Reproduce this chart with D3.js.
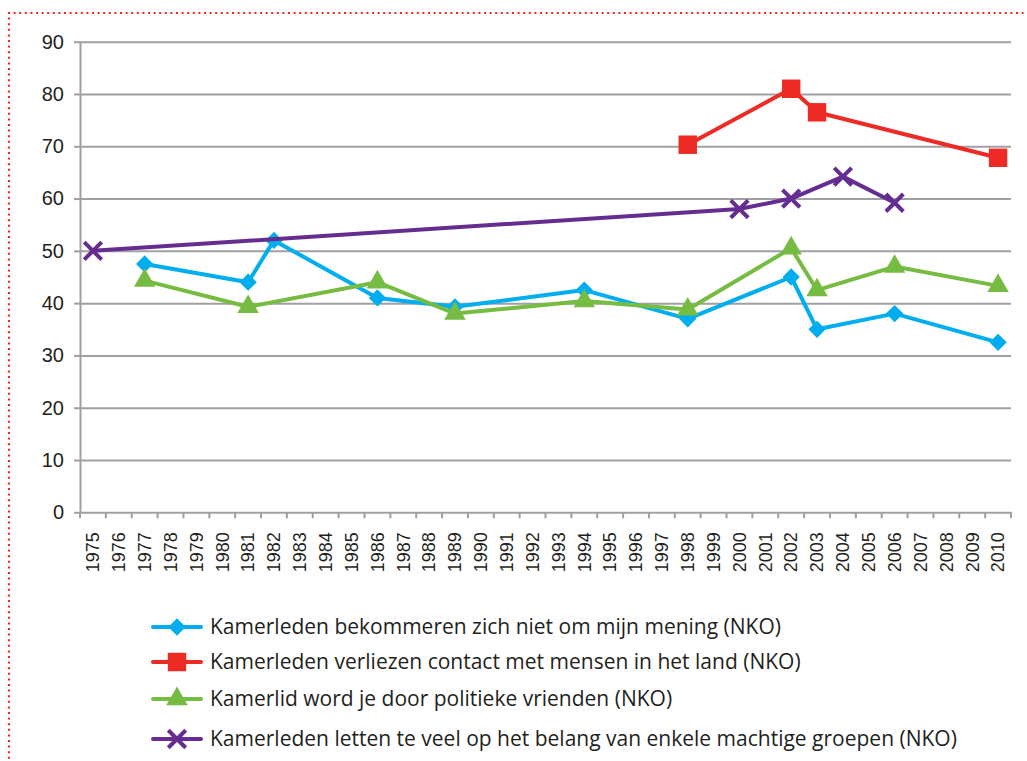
<!DOCTYPE html>
<html>
<head>
<meta charset="utf-8">
<script src="https://cdn.jsdelivr.net/npm/d3@7"></script>
<style>
  body { margin: 0; background: #fff; }
  svg { display: block; font-family: "Open Sans", "Noto Sans", sans-serif; }
  .grid line { stroke: #a0a0a4; stroke-width: 2; }
  .grid path { display: none; }
  .axis path, .axis line { stroke: #a0a0a4; stroke-width: 2; }
  .axis text { fill: #231f20; }
</style>
</head>
<body>
<svg id="chart" width="1027" height="761"></svg>
<script>
// years on the category axis
const years = d3.range(1975, 2011).map(String);
const yTicks = [0, 10, 20, 30, 40, 50, 60, 70, 80, 90];

// series values
const bekommeren = [
  ['1977', 47.5], ['1981', 44], ['1982', 52], ['1986', 41], ['1989', 39.3],
  ['1994', 42.5], ['1998', 37], ['2002', 45], ['2003', 35], ['2006', 38], ['2010', 32.5]
];
const verliezen = [['1998', 70.3], ['2002', 81], ['2003', 76.5], ['2010', 67.8]];
const vrienden = [
  ['1977', 44.3], ['1981', 39.3], ['1986', 44], ['1989', 38], ['1994', 40.4],
  ['1998', 38.8], ['2002', 50.5], ['2003', 42.5], ['2006', 47], ['2010', 43.3]
];
const groepen = [['1975', 50], ['2000', 58], ['2002', 60], ['2004', 64.2], ['2006', 59.2]];

const seriesNames = [
  'Kamerleden bekommeren zich niet om mijn mening (NKO)',
  'Kamerleden verliezen contact met mensen in het land (NKO)',
  'Kamerlid word je door politieke vrienden (NKO)',
  'Kamerleden letten te veel op het belang van enkele machtige groepen (NKO)'
];

const series = [
  { name: seriesNames[0], values: bekommeren, color: '#00aeef', symbol: d3.symbolDiamond2, size: 190 },
  { name: seriesNames[1], values: verliezen, color: '#ee2a24', symbol: d3.symbolSquare, size: 340 },
  { name: seriesNames[2], values: vrienden, color: '#76bc43', symbol: d3.symbolTriangle, size: 200 },
  { name: seriesNames[3], values: groepen, color: '#662d91', symbol: d3.symbolX, size: 200 }
];

const svg = d3.select('#chart');

// dotted red frame
svg.append('path')
  .attr('d', 'M9,770 L9,13 L1040,13')
  .attr('fill', 'none')
  .attr('stroke', '#ee2a24')
  .attr('stroke-width', 2.2)
  .attr('stroke-dasharray', '2,3.6');

const m = { left: 80, right: 1011, top: 41.7, bottom: 512.3 };

const x = d3.scaleBand().domain(years).range([m.left, m.right]);
const y = d3.scaleLinear().domain([0, 90]).range([m.bottom, m.top]);

// horizontal grid
svg.append('g')
  .attr('class', 'grid')
  .attr('transform', `translate(${m.left},0)`)
  .call(d3.axisLeft(y).tickValues(yTicks.slice(1)).tickSize(-(m.right - m.left)).tickFormat(''));

// y axis
const yAxis = svg.append('g')
  .attr('class', 'axis')
  .attr('transform', `translate(${m.left},0)`)
  .call(d3.axisLeft(y).tickValues(yTicks).tickSize(6).tickPadding(10).tickSizeOuter(0));
yAxis.selectAll('text').style('font-size', '20px');

// x axis, ticks between categories
const xAxis = svg.append('g')
  .attr('class', 'axis')
  .attr('transform', `translate(0,${m.bottom})`)
  .call(d3.axisBottom(x).tickSize(0).tickSizeOuter(0));
xAxis.selectAll('.tick text')
  .style('font-size', '18px')
  .attr('transform', 'rotate(-90)')
  .attr('text-anchor', 'end')
  .attr('x', -20)
  .attr('y', 0)
  .attr('dy', '0.35em');
xAxis.selectAll('.sep')
  .data(years.concat(['end']))
  .enter().append('line')
  .attr('x1', (d, i) => m.left + i * x.step())
  .attr('x2', (d, i) => m.left + i * x.step())
  .attr('y1', 0).attr('y2', 6);

const cx = d => x(d[0]) + x.bandwidth() / 2;
const line = d3.line().x(cx).y(d => y(d[1]));

series.forEach(s => {
  const g = svg.append('g');
  g.append('path')
    .attr('d', line(s.values))
    .attr('fill', 'none')
    .attr('stroke', s.color)
    .attr('stroke-width', 4)
    .attr('stroke-linejoin', 'round');
  g.selectAll('path.m')
    .data(s.values)
    .enter().append('path')
    .attr('class', 'm')
    .attr('transform', d => `translate(${cx(d)},${y(d[1])})`)
    .attr('d', d3.symbol(s.symbol, s.size))
    .attr('fill', s.color)
    .attr('stroke', s.symbol === d3.symbolX ? s.color : 'none')
    .attr('stroke-width', s.symbol === d3.symbolX ? 4 : 0);
});

// legend
const legendY = [627, 662, 699, 739];
series.forEach((s, i) => {
  const g = svg.append('g').attr('transform', `translate(153,${legendY[i]})`);
  g.append('line')
    .attr('x1', 0).attr('x2', 48)
    .attr('stroke', s.color).attr('stroke-width', 4).attr('stroke-linecap', 'round');
  g.append('path')
    .attr('transform', 'translate(24,0)')
    .attr('d', d3.symbol(s.symbol, s.size))
    .attr('fill', s.color)
    .attr('stroke', s.symbol === d3.symbolX ? s.color : 'none')
    .attr('stroke-width', s.symbol === d3.symbolX ? 4 : 0);
  g.append('text')
    .attr('x', 57).attr('dy', '0.35em')
    .style('font-size', '21px')
    .attr('fill', '#231f20')
    .text(s.name);
});
</script>
</body>
</html>
